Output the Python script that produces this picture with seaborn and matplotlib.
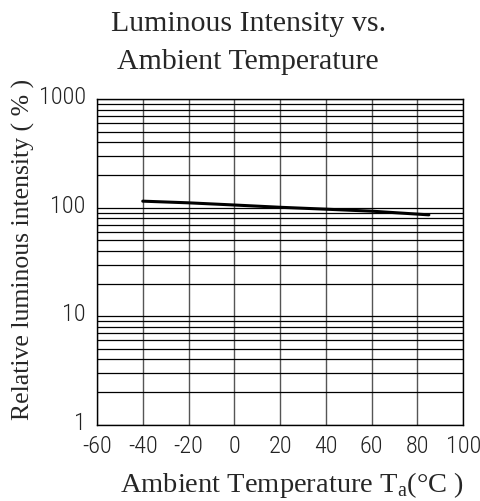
import numpy as np
import matplotlib
matplotlib.use("Agg")
import matplotlib.pyplot as plt
import matplotlib.transforms as mtransforms
import seaborn as sns
from matplotlib.ticker import FixedLocator, LogLocator, NullFormatter

# data
temperature = [-40, -20, 0, 20, 40, 60, 85]
intensity = [115, 111, 106, 101, 97, 93, 86]

x_ticks = [-60, -40, -20, 0, 20, 40, 60, 80, 100]
y_ticks = [1, 10, 100, 1000]
y_tick_labels = ["1", "10", "100", "1000"]

sns.set_style("white")
plt.rcParams['font.family'] = ['Liberation Serif', 'DejaVu Serif']

fig = plt.figure(figsize=(4.8, 5.01), dpi=100)
ax = fig.add_axes([0.202, 0.152, 0.763, 0.650])

sns.lineplot(x=temperature, y=intensity, ax=ax, color="black", linewidth=2.2)

ax.set_yscale("log")
ax.set_xlim(-60, 100)
ax.set_ylim(1, 1000)

ax.xaxis.set_major_locator(FixedLocator(x_ticks))
ax.yaxis.set_major_locator(FixedLocator(y_ticks))
ax.yaxis.set_minor_locator(LogLocator(base=10, subs=np.arange(2, 10)))
ax.yaxis.set_minor_formatter(NullFormatter())
ax.set_yticklabels(y_tick_labels)
ax.set_xticklabels([str(t) for t in x_ticks])

ax.grid(True, which="major", axis="x", color="#555555", linewidth=1.0)
ax.grid(True, which="both", axis="y", color="black", linewidth=0.9)
for s in ax.spines.values():
    s.set_color("black")
    s.set_linewidth(1.0)

ax.tick_params(axis="x", which="both", length=0, pad=7)
ax.tick_params(axis="y", which="both", length=0, pad=8)
for lab in ax.get_xticklabels() + ax.get_yticklabels():
    lab.set_fontfamily("Roboto Condensed")
    lab.set_fontweight("light")
    lab.set_fontsize(17.5)
    lab.set_color("#222222")

# y labels sit a little above their grid lines
shift_up = mtransforms.ScaledTranslation(0, 4 / 100, fig.dpi_scale_trans)
for lab in ax.get_yticklabels():
    lab.set_transform(lab.get_transform() + shift_up)

ax.set_xlabel("Ambient Temperature T$_\\mathregular{a}$(°C )", fontsize=20.5)
ax.xaxis.set_label_coords(0.533, -0.14)
ax.set_ylabel("Relative luminous intensity ( % )", fontsize=18.5)
ax.yaxis.set_label_coords(-0.17, 0.54)

fig.text(0.517, 0.952, "Luminous Intensity vs.", ha="center", va="center", fontsize=21.5)
fig.text(0.517, 0.877, "Ambient Temperature", ha="center", va="center", fontsize=21.5)

fig.savefig("out.png", dpi=100)
